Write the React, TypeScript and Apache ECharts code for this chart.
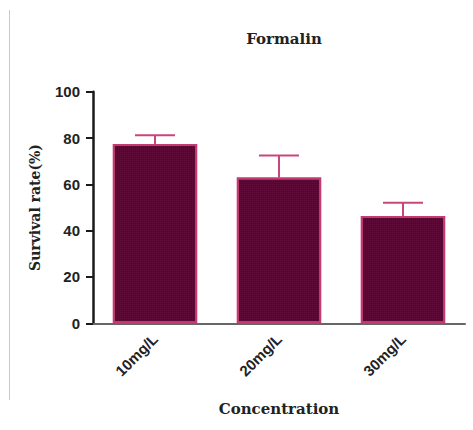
import React, { useEffect, useRef } from "react";
import * as echarts from "echarts";

const categories = ["10mg/L", "20mg/L", "30mg/L"];
const means = [77.4, 63.0, 46.3];
const errUpper = [81.2, 72.5, 52.1];
const yTicks = { min: 0, max: 100, interval: 20 };

export default function App() {
  const ref = useRef<HTMLDivElement>(null);
  useEffect(() => {
    document.body.style.margin = "0";
    const chart = echarts.init(ref.current!, null, { renderer: "svg" });
    const serif = "'DejaVu Serif', 'Liberation Serif', serif";
    const sans = "'Liberation Sans', Arial, sans-serif";
    chart.setOption({
      animation: false,
      backgroundColor: "#ffffff",
      title: {
        text: "Formalin",
        left: 279,
        top: 26,
        textAlign: "center",
        textStyle: { fontFamily: serif, fontWeight: "bold", fontSize: 15, color: "#222" },
      },
      graphic: [
        {
          type: "line",
          shape: { x1: 9.5, y1: 10, x2: 9.5, y2: 400 },
          style: { stroke: "#c8c8c8", lineWidth: 1 },
        },
      ],
      grid: { left: 93, right: 8, top: 91.7, bottom: 106.7 },
      xAxis: {
        type: "category",
        data: categories,
        name: "Concentration",
        nameLocation: "middle",
        nameGap: 78,
        nameTextStyle: { fontFamily: serif, fontWeight: "bold", fontSize: 15, color: "#222" },
        axisLine: { lineStyle: { color: "#666", width: 2 } },
        axisTick: { alignWithLabel: true, length: 6, lineStyle: { color: "#222", width: 2 } },
        axisLabel: {
          rotate: 45,
          margin: 13,
          fontFamily: sans,
          fontSize: 15,
          fontWeight: "bold",
          color: "#222",
        },
      },
      yAxis: {
        type: "value",
        min: yTicks.min,
        max: yTicks.max,
        interval: yTicks.interval,
        name: "Survival rate(%)",
        nameLocation: "middle",
        nameGap: 51,
        nameTextStyle: { fontFamily: serif, fontWeight: "bold", fontSize: 14, color: "#222" },
        splitLine: { show: false },
        axisLine: { show: true, lineStyle: { color: "#1a1a1a", width: 2.5 } },
        axisTick: { show: true, length: 7, lineStyle: { color: "#1a1a1a", width: 2 } },
        axisLabel: {
          margin: 13,
          fontFamily: sans,
          fontSize: 15,
          fontWeight: "bold",
          color: "#222",
        },
      },
      series: [
        {
          type: "bar",
          data: means,
          barWidth: "68%",
          itemStyle: {
            color: "#4e0b2f",
            borderColor: "#c63a72",
            borderWidth: 2,
            decal: {
              symbol: "rect",
              symbolSize: 1,
              dashArrayX: [1, 1],
              dashArrayY: [1, 1],
              color: "rgba(120,20,70,0.45)",
            },
          },
          z: 2,
        },
        {
          type: "custom",
          z: 3,
          data: categories.map((c, i) => [i, means[i], errUpper[i]]),
          renderItem: (params: any, api: any) => {
            const x = api.value(0);
            const top = api.coord([x, api.value(2)]);
            const base = api.coord([x, api.value(1)]);
            const half = 20;
            const style = { stroke: "#c8467c", lineWidth: 2 };
            return {
              type: "group",
              children: [
                { type: "line", shape: { x1: top[0], y1: top[1], x2: base[0], y2: base[1] }, style },
                { type: "line", shape: { x1: top[0] - half, y1: top[1], x2: top[0] + half, y2: top[1] }, style },
              ],
            };
          },
        },
      ],
    });
    return () => chart.dispose();
  }, []);
  return <div ref={ref} style={{ width: 473, height: 430 }} />;
}
